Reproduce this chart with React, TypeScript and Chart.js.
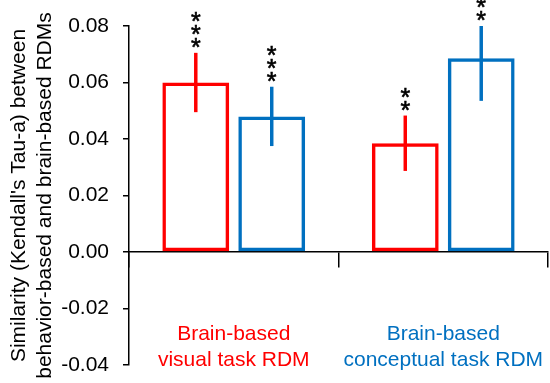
import React, { useEffect, useRef } from "react";
import { Chart, registerables } from "chart.js";

Chart.register(...registerables);

const categories = [
  ["Brain-based", "visual task RDM"],
  ["Brain-based", "conceptual task RDM"],
];
const categoryColors = ["#FF0000", "#0070C0"];
const seriesNames = ["Visual task", "Conceptual task"];
const seriesColors = ["#FF0000", "#0070C0"];
const redValues = [0.06, 0.0385];
const blueValues = [0.048, 0.0686];
const redErrors = [0.0105, 0.0098];
const blueErrors = [0.0105, 0.0151];
const redStars = ["***", "**"];
const blueStars = ["***", "***"];
const yMin = -0.04;
const yMax = 0.08;
const yStep = 0.02;
const yTitle = [
  "Similarity (Kendall's Tau-a) between",
  "behavior-based and brain-based RDMs",
];

const FONT = "'Liberation Sans', Arial, sans-serif";

const errorStarPlugin = {
  id: "errorStars",
  afterDatasetsDraw(chart: any) {
    const ctx = chart.ctx;
    const ys = chart.scales.y;
    const area = chart.chartArea;
    chart.data.datasets.forEach((ds: any, di: number) => {
      const meta = chart.getDatasetMeta(di);
      meta.data.forEach((bar: any, i: number) => {
        const v = ds.data[i];
        const e = ds.errors[i];
        const top = ys.getPixelForValue(v + e);
        const bot = ys.getPixelForValue(v - e);
        ctx.save();
        ctx.beginPath();
        ctx.rect(area.left, area.top, area.right - area.left, area.bottom - area.top);
        ctx.clip();
        ctx.strokeStyle = ds.borderColor;
        ctx.lineWidth = 3.5;
        ctx.beginPath();
        ctx.moveTo(bar.x, top);
        ctx.lineTo(bar.x, bot);
        ctx.stroke();
        ctx.restore();

        const starTop = Math.max(top, area.top);
        const s: string = ds.stars[i];
        const fs = 25;
        ctx.save();
        ctx.fillStyle = "#000";
        ctx.strokeStyle = "#000";
        ctx.lineWidth = 0.6;
        ctx.font = `${fs}px ${FONT}`;
        ctx.textAlign = "center";
        ctx.textBaseline = "alphabetic";
        for (let k = 0; k < s.length; k++) {
          const cy = starTop - 12 - k * 13;
          ctx.fillText(s[k], bar.x, cy + 0.6 * fs);
          ctx.strokeText(s[k], bar.x, cy + 0.6 * fs);
        }
        ctx.restore();
      });
    });
  },
};

export default function App() {
  const ref = useRef<HTMLCanvasElement>(null);

  useEffect(() => {
    if (!ref.current) return;
    Chart.defaults.font.family = FONT;
    const chart = new Chart(ref.current, {
      type: "bar",
      data: {
        labels: categories,
        datasets: [
          {
            label: seriesNames[0],
            data: redValues,
            errors: redErrors,
            stars: redStars,
            backgroundColor: "rgba(255,255,255,0)",
            borderColor: seriesColors[0],
            borderWidth: 3.5,
            borderSkipped: false,
            categoryPercentage: 0.725,
            barPercentage: 0.88,
          } as any,
          {
            label: seriesNames[1],
            data: blueValues,
            errors: blueErrors,
            stars: blueStars,
            backgroundColor: "rgba(255,255,255,0)",
            borderColor: seriesColors[1],
            borderWidth: 3.5,
            borderSkipped: false,
            categoryPercentage: 0.725,
            barPercentage: 0.88,
          } as any,
        ],
      },
      options: {
        responsive: false,
        animation: false,
        layout: { padding: { left: 0, top: 26, right: 2, bottom: 18 } },
        plugins: {
          legend: { display: false },
          tooltip: { enabled: false },
        },
        scales: {
          x: {
            position: { y: 0 } as any,
            grid: {
              display: true,
              drawOnChartArea: false,
              drawTicks: true,
              tickLength: 15,
              color: "#000",
              lineWidth: 1.5,
              offset: true,
            },
            border: { display: true, color: "#000", width: 1.5 },
            ticks: {
              color: (c: any) => categoryColors[c.index] || "#000",
              font: { size: 21 },
              padding: 55,
              maxRotation: 0,
            },
            afterFit: (s: any) => {
              s.paddingLeft = 0;
              s.paddingRight = 0;
              s.paddingTop = 0;
              s.paddingBottom = 0;
            },
          },
          y: {
            min: yMin,
            max: yMax,
            ticks: {
              stepSize: yStep,
              color: "#000",
              font: { size: 21 },
              padding: 14,
              callback: (v: any) =>
                Math.abs(Number(v)) < 1e-9 ? "0.00" : Number(v).toFixed(2),
            },
            grid: {
              drawOnChartArea: false,
              drawTicks: true,
              tickLength: 6,
              color: "#000",
              lineWidth: 1.5,
            },
            border: { display: true, color: "#000", width: 1.5 },
            title: {
              display: true,
              text: yTitle,
              color: "#000",
              font: { size: 21 },
              padding: { top: 7, bottom: 0 },
            },
            afterFit: (s: any) => {
              s.width = 129;
              s.paddingTop = 0;
              s.paddingBottom = 0;
            },
          },
        },
      },
      plugins: [errorStarPlugin],
    });
    return () => chart.destroy();
  }, []);

  return (
    <div style={{ position: "fixed", left: 0, top: 0, width: 550, height: 383, background: "#fff" }}>
      <canvas ref={ref} width={550} height={383} style={{ width: 550, height: 383 }} />
    </div>
  );
}
